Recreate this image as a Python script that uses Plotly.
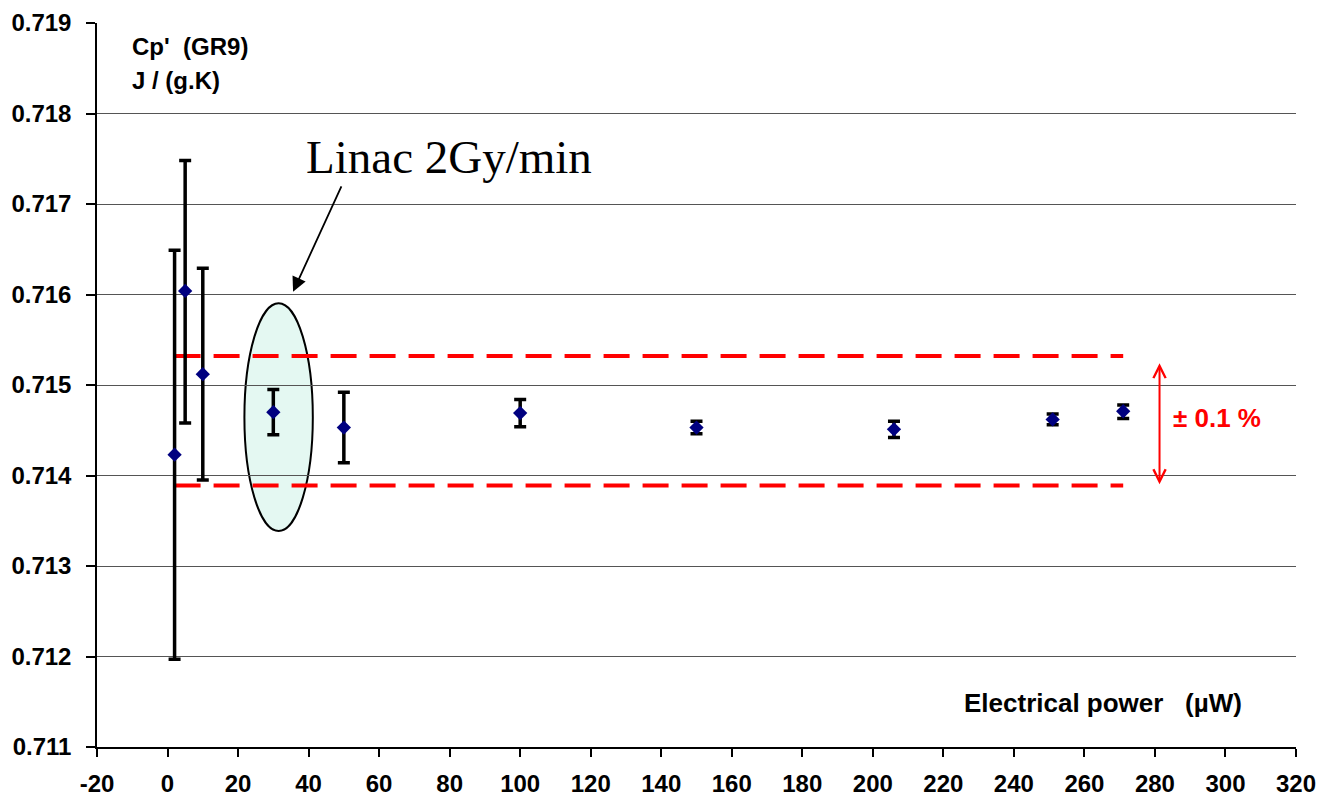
import plotly.graph_objects as go

# Data
power = [2, 5, 10, 30, 50, 100, 150, 206, 251, 271]
cp = [0.71423, 0.71604, 0.71512, 0.71470, 0.71453, 0.71469, 0.71453, 0.71451, 0.71462, 0.71471]
err_plus = [0.00226, 0.00144, 0.00117, 0.00025, 0.00039, 0.00015, 0.00007, 0.00009, 0.00006, 0.00007]
err_minus = [0.00226, 0.00146, 0.00117, 0.00025, 0.00039, 0.00015, 0.00007, 0.00009, 0.00006, 0.00008]

band_x = [2, 271]
band_upper = [0.71532, 0.71532]
band_lower = [0.71389, 0.71389]

x_ticks = list(range(-20, 321, 20))
x_tick_labels = [str(v) for v in x_ticks]
y_ticks = [0.711, 0.712, 0.713, 0.714, 0.715, 0.716, 0.717, 0.718, 0.719]
y_tick_labels = ["%.3f" % v for v in y_ticks]

fig = go.Figure()

for yb in (band_upper, band_lower):
    fig.add_trace(go.Scatter(
        x=band_x, y=yb, mode="lines",
        line=dict(color="#FF0000", width=4, dash="26px,13px"),
        showlegend=False, hoverinfo="skip"))

fig.add_trace(go.Scatter(
    x=power, y=cp, mode="markers",
    marker=dict(symbol="diamond", size=11, color="#000080"),
    error_y=dict(type="data", symmetric=False, array=err_plus, arrayminus=err_minus,
                 color="black", thickness=3.5, width=6),
    showlegend=False))

# Ellipse highlighting Linac measurement
fig.add_shape(type="circle", xref="x", yref="y",
              x0=21.8, x1=41.2, y0=0.713387, y1=0.715903,
              line=dict(color="black", width=2), fillcolor="#E4F8F2", layer="below")

font_b = dict(family="Liberation Sans, Arial, sans-serif", size=24, color="black", weight="bold")
font_t = dict(family="Liberation Sans, Arial, sans-serif", size=26, color="black", weight="bold")

fig.add_annotation(x=79.9, y=0.71752, xref="x", yref="y", text="Linac 2Gy/min",
                   showarrow=False, font=dict(family="Liberation Serif, Times New Roman, serif",
                                              size=47, color="black", weight="normal"),
                   xanchor="center", yanchor="middle")
fig.add_annotation(x=35.6, y=0.716031, ax=49.5, ay=0.717211, xref="x", yref="y",
                   axref="x", ayref="y", text="", showarrow=True,
                   arrowhead=2, arrowsize=1.6, arrowwidth=1.8, arrowcolor="black")

# Red double-headed arrow
fig.add_annotation(x=281.3, y=0.713904, ax=281.3, ay=0.715257, xref="x", yref="y",
                   axref="x", ayref="y", text="", showarrow=True,
                   arrowhead=5, startarrowhead=5, arrowside="end+start",
                   arrowsize=1.2, startarrowsize=1.2, arrowwidth=2, arrowcolor="#FF0000")
fig.add_annotation(x=297.5, y=0.714634, xref="x", yref="y", text="± 0.1 %",
                   showarrow=False, font=dict(family="Liberation Sans, Arial, sans-serif",
                                              size=26, color="#FF0000", weight="bold"),
                   xanchor="center", yanchor="middle")

fig.add_annotation(x=-10.6, y=0.71874, xref="x", yref="y", text="Cp'  (GR9)",
                   showarrow=False, font=font_b, xanchor="left", yanchor="middle")
fig.add_annotation(x=-10.6, y=0.71837, xref="x", yref="y", text="J / (g.K)",
                   showarrow=False, font=font_b, xanchor="left", yanchor="middle")
fig.add_annotation(x=305.2, y=0.711481, xref="x", yref="y", text="Electrical power   (µW)",
                   showarrow=False, font=font_t, xanchor="right", yanchor="middle")

fig.update_layout(
    width=1320, height=797,
    margin=dict(l=97, r=24, t=23, b=50),
    paper_bgcolor="white", plot_bgcolor="white",
    font=font_b,
)
fig.update_xaxes(range=[-20, 320], tickvals=x_ticks, ticktext=x_tick_labels,
                 showgrid=False, zeroline=False, automargin=False,
                 showline=True, linecolor="black", linewidth=1.5,
                 ticks="outside", ticklen=8, tickcolor="black", tickwidth=1.5,
                 tickfont=font_b, ticklabelstandoff=6)
fig.update_yaxes(range=[0.711, 0.719], tickvals=y_ticks, ticktext=y_tick_labels,
                 showgrid=True, gridcolor="#555555", gridwidth=1, zeroline=False,
                 automargin=False,
                 showline=True, linecolor="black", linewidth=1.5,
                 ticks="outside", ticklen=9, tickcolor="black", tickwidth=1.5,
                 tickfont=font_b, ticklabelstandoff=10)

fig.write_html("out.html")
